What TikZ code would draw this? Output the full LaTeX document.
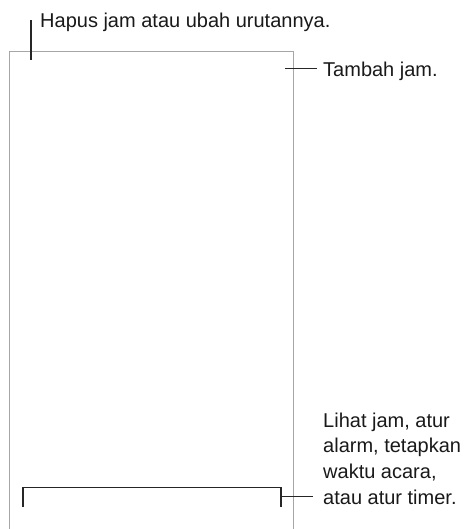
\documentclass[tikz,border=0pt]{standalone}
\usepackage{fontspec}
\setmainfont{Liberation Sans}
\begin{document}
\begin{tikzpicture}[x=1pt,y=-1pt,
  frame/.style={draw=black!35,line width=1pt},
  callout/.style={draw=black!85,line width=1.2pt},
  lbl/.style={font=\fontsize{20}{25.8}\selectfont,text=black!90,inner sep=0pt}]
\useasboundingbox (0,0) rectangle (466,529);
% device frame (open at the bottom)
\draw[frame] (9.5,529) -- (9.5,51.5) -- (293,51.5) -- (293,529);
% top-left callout
\coordinate (h1) at (31,60);
\coordinate (h2) at (31,20.5);
\node[lbl,anchor=base west] (hapus) at (40,27.5) {Hapus jam atau ubah urutannya.};
\draw[callout] (h1) -- (h2);
% top-right callout
\coordinate (t1) at (285,68.5);
\node[lbl,anchor=base west] (tambah) at (323,76.5) {Tambah jam.};
\draw[callout] (t1) -- ([xshift=-6pt]tambah.west |- t1);
% bottom bracket callout
\coordinate (b1) at (23,506.5);
\coordinate (b2) at (23,487.5);
\coordinate (b3) at (281,487.5);
\coordinate (b4) at (281,506.5);
\coordinate (b5) at (281,496.5);
\coordinate (b6) at (313,496.5);
\node[lbl,anchor=north west,align=left] (lihat) at (323,412.4)
  {Lihat jam, atur\\alarm, tetapkan\\waktu acara,\\atau atur timer.};
\draw[callout] (b1) -- (b2) -- (b3) -- (b4);
\draw[callout] (b5) -- (b6);
\end{tikzpicture}
\end{document}
